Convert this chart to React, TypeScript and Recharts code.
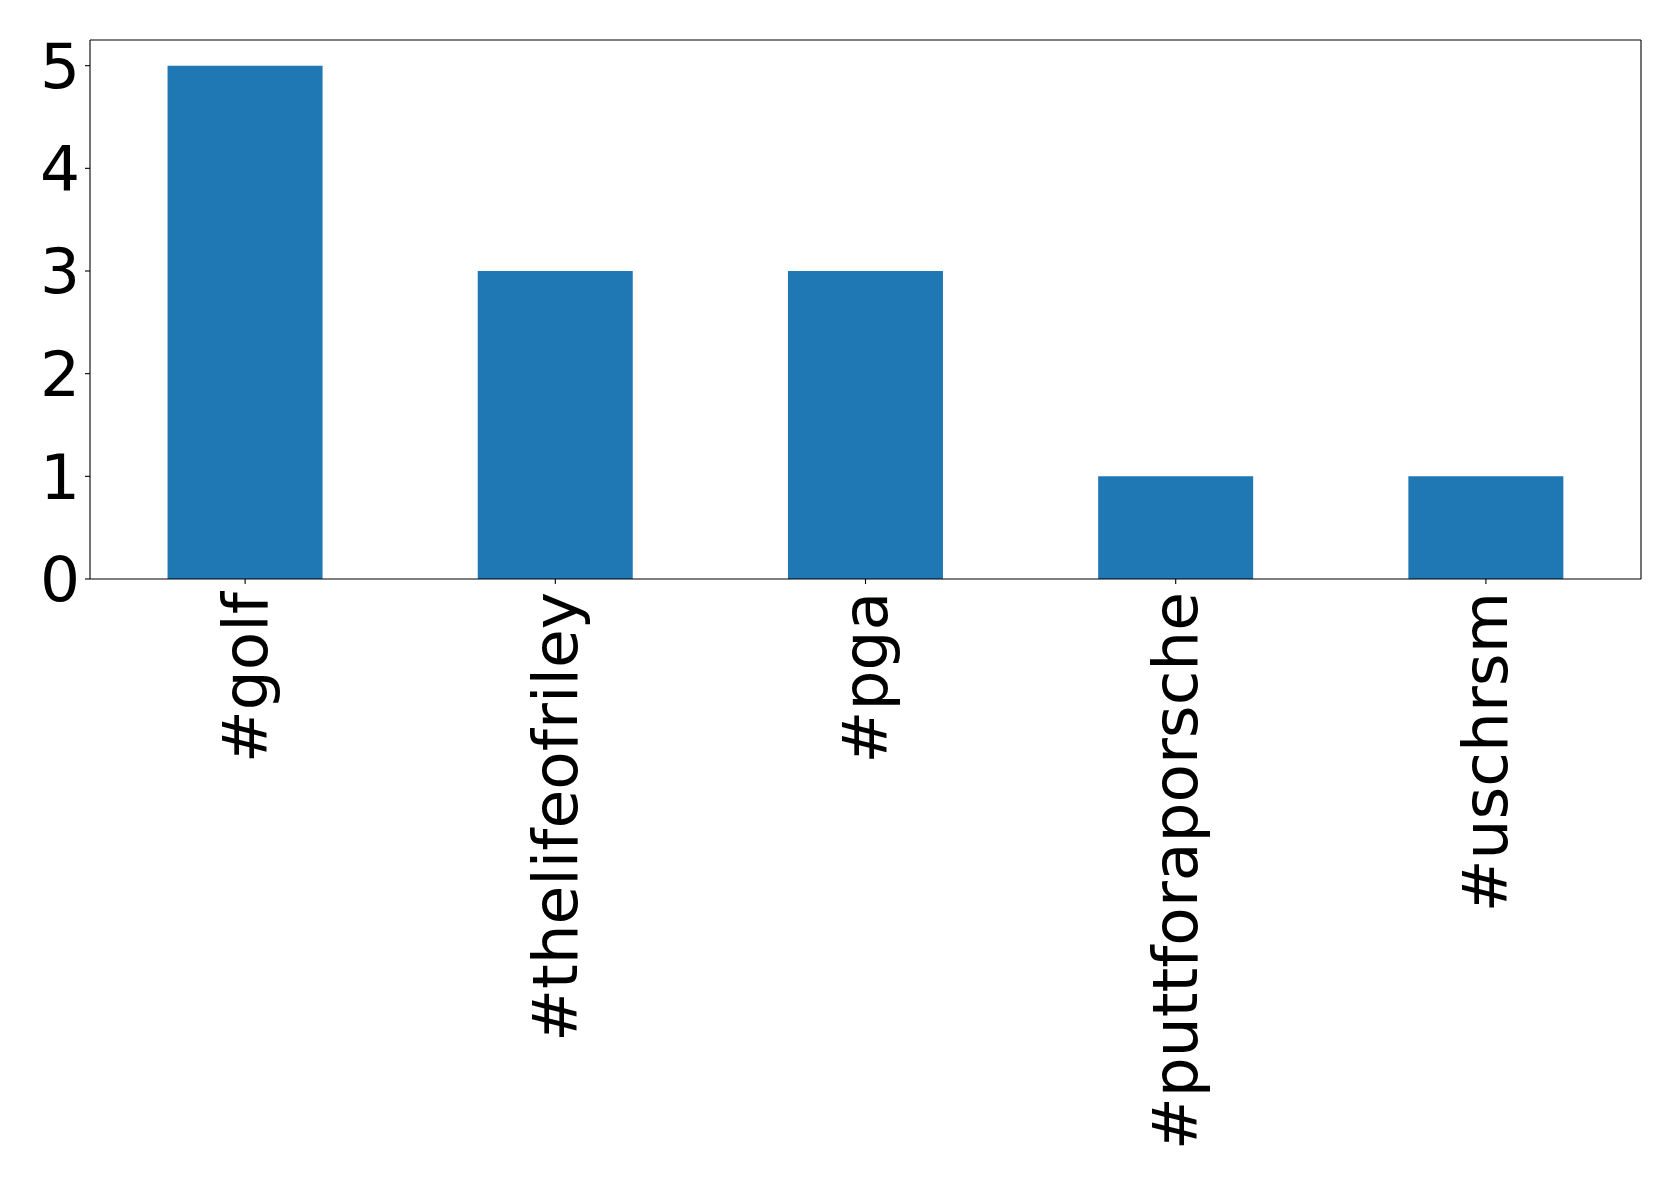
import React from "react";
import { BarChart, Bar, XAxis, YAxis } from "recharts";

const categories = ["#golf", "#thelifeofriley", "#pga", "#puttforaporsche", "#uschrsm"];
const counts = [5, 3, 3, 1, 1];
const yTicks = [0, 1, 2, 3, 4, 5];

const data = categories.map((c, i) => ({ name: c, value: counts[i] }));

const FONT = "DejaVu Sans";
const FS = 63;

const RotTick = (props: any) => {
  const { x, y, payload } = props;
  return (
    <text
      x={0}
      y={0}
      transform={`translate(${x},${y + 3}) rotate(-90)`}
      textAnchor="end"
      dominantBaseline="central"
      fontSize={FS}
      fontFamily={FONT}
      fill="#000"
    >
      {payload.value}
    </text>
  );
};

export default function App() {
  return (
    <div style={{ position: "absolute", left: 0, top: 0, width: 1679, height: 1182, background: "#fff" }}>
      <BarChart
        width={1679}
        height={1182}
        data={data}
        margin={{ top: 39, right: 37, left: 0, bottom: 0 }}
        barCategoryGap="25%"
      >
        <XAxis
          dataKey="name"
          height={603}
          interval={0}
          tickSize={5}
          tickMargin={5}
          stroke="#000"
          tick={<RotTick />}
          tickLine={{ stroke: "#000", strokeWidth: 1.1 }}
          axisLine={{ stroke: "#000", strokeWidth: 1.1 }}
        />
        <XAxis
          xAxisId="top"
          dataKey="name"
          orientation="top"
          height={1}
          stroke="#000"
          tick={false}
          tickLine={false}
          axisLine={{ stroke: "#000", strokeWidth: 1.1 }}
        />
        <YAxis
          width={90}
          domain={[0, 5.25]}
          ticks={yTicks}
          allowDataOverflow
          tickSize={5}
          tickMargin={5}
          stroke="#000"
          tick={{ fontSize: FS, fontFamily: FONT, fill: "#000" }}
          tickLine={{ stroke: "#000", strokeWidth: 1.1 }}
          axisLine={{ stroke: "#000", strokeWidth: 1.1 }}
        />
        <YAxis
          yAxisId="right"
          orientation="right"
          width={1}
          domain={[0, 5.25]}
          stroke="#000"
          tick={false}
          tickLine={false}
          axisLine={{ stroke: "#000", strokeWidth: 1.1 }}
        />
        <Bar dataKey="value" fill="#1f77b4" isAnimationActive={false} />
      </BarChart>
    </div>
  );
}
